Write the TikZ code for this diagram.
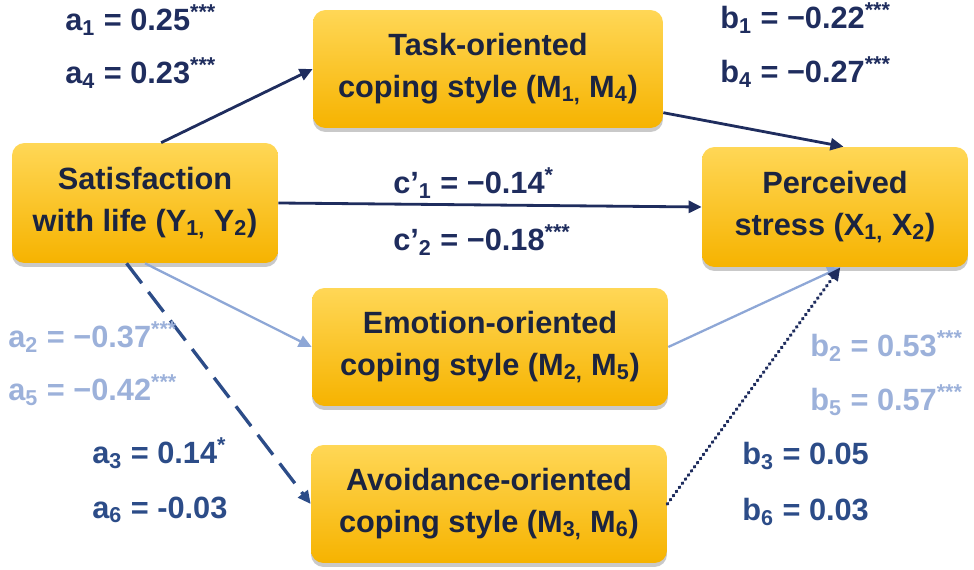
\documentclass[tikz,border=0pt]{standalone}
\usepackage{fontspec}
\setmainfont{Liberation Sans}
\usetikzlibrary{arrows.meta,shadows}
\definecolor{navy}{HTML}{1F2D5E}
\definecolor{midblue}{HTML}{2C4C88}
\definecolor{paleblue}{HTML}{8EA7D6}
\definecolor{palelab}{HTML}{9CB1DA}
\definecolor{boxtxt}{HTML}{1B2440}
\definecolor{boxtop}{HTML}{FFD756}
\definecolor{boxbot}{HTML}{F6B300}
\begin{document}
\begin{tikzpicture}[x=0.02cm,y=-0.02cm]
  \tikzstyle{every node}+=[inner sep=0pt, font=\bfseries\fontsize{17.5}{24}\selectfont]
  \tikzstyle{box}=[rounded corners=0.25cm, top color=boxtop, bottom color=boxbot,
    text=boxtxt, align=center, minimum height=2.4cm,
    drop shadow={shadow xshift=0pt, shadow yshift=-0.08cm, opacity=0.3, fill=black!70}]
  \tikzstyle{lab}=[anchor=west]
  \tikzstyle{arr}=[-{Triangle[length=0.26cm,width=0.24cm]}, line width=1.6pt]
  \useasboundingbox (0,0) rectangle (974,570);
  % variables
  \node[box, minimum width=5.32cm] (sat) at (145,203) {Satisfaction\\with life (Y\textsubscript{1,} Y\textsubscript{2})};
  \node[box, minimum width=7cm, minimum height=2.36cm] (task) at (488,69) {Task-oriented\\coping style (M\textsubscript{1,} M\textsubscript{4})};
  \node[box, minimum width=7.12cm, minimum height=2.36cm] (emo) at (490,347) {Emotion-oriented\\coping style (M\textsubscript{2,} M\textsubscript{5})};
  \node[box, minimum width=7.12cm, minimum height=2.36cm] (avo) at (489,504) {Avoidance-oriented\\coping style (M\textsubscript{3,} M\textsubscript{6})};
  \node[box, minimum width=5.32cm] (per) at (835,207) {Perceived\\stress (X\textsubscript{1,} X\textsubscript{2})};
  % paths
  \draw[arr, navy] (sat.75) -- (task.west);
  \draw[arr, navy] (task.-14) -- (per.82);
  \draw[arr, navy] (sat.east) -- (per.west);
  \draw[arr, paleblue, line width=1.3pt] (sat.south) -- (emo.west);
  \draw[arr, paleblue, line width=1.3pt] (emo.east) -- (per.-85);
  \draw[arr, midblue, line width=1.9pt, dash pattern=on 0.5cm off 0.22cm] (sat.-107) -- (avo.west);
  \draw[arr, navy, line width=2pt, line cap=round, dash pattern=on 0.3pt off 2.6pt] (avo.east) -- (per.-85);
  % coefficients
  \node[lab, text=navy] (a1) at (65,20) {a\textsubscript{1} = 0.25\textsuperscript{***}};
  \node[lab, text=navy] (a4) at (65,73) {a\textsubscript{4} = 0.23\textsuperscript{***}};
  \node[lab, text=navy] (b1) at (720,18) {b\textsubscript{1} = −0.22\textsuperscript{***}};
  \node[lab, text=navy] (b4) at (720,72) {b\textsubscript{4} = −0.27\textsuperscript{***}};
  \node[lab, text=navy] (c1) at (393,183) {c’\textsubscript{1} = −0.14\textsuperscript{*}};
  \node[lab, text=navy] (c2) at (393,240) {c’\textsubscript{2} = −0.18\textsuperscript{***}};
  \node[lab, text=palelab] (a2) at (8,337) {a\textsubscript{2} = −0.37\textsuperscript{***}};
  \node[lab, text=palelab] (a5) at (8,390) {a\textsubscript{5} = −0.42\textsuperscript{***}};
  \node[lab, text=midblue] (a3) at (92,453) {a\textsubscript{3} = 0.14\textsuperscript{*}};
  \node[lab, text=midblue] (a6) at (92,510) {a\textsubscript{6} = -0.03};
  \node[lab, text=palelab] (b2) at (810,346) {b\textsubscript{2} = 0.53\textsuperscript{***}};
  \node[lab, text=palelab] (b5) at (810,400) {b\textsubscript{5} = 0.57\textsuperscript{***}};
  \node[lab, text=midblue] (b3) at (742,456) {b\textsubscript{3} = 0.05};
  \node[lab, text=midblue] (b6) at (742,512) {b\textsubscript{6} = 0.03};
\end{tikzpicture}
\end{document}
